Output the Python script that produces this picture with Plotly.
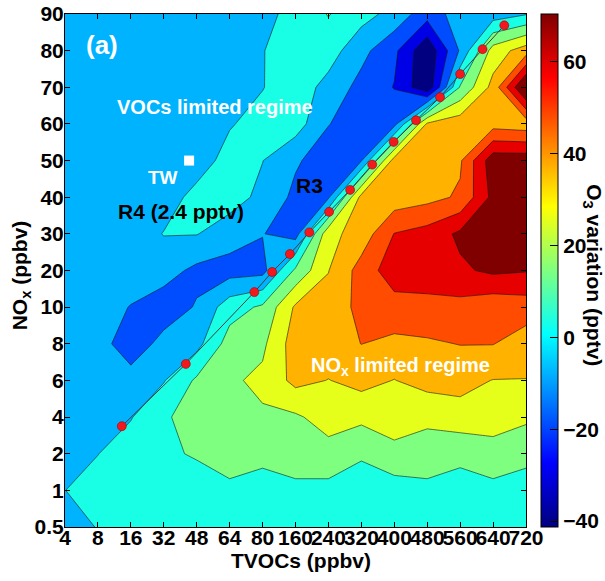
import numpy as np
import plotly.graph_objects as go

# ---------------- data ----------------
tvoc_ticks = [4, 8, 16, 32, 48, 64, 80, 160, 240, 320, 400, 480, 560, 640, 720]   # ppbv
nox_ticks = [0.5, 1, 2, 4, 6, 8, 10, 20, 30, 40, 50, 60, 70, 80, 90]              # ppbv

# O3 variation (pptv); one list per NOx level (bottom -> top), values along TVOC ticks
o3_nox_0p5 = [-6, -1.8, 3, 3, 3, 3, 3, 3, 3, 3, 3, 3, 3, 3, 3]
o3_nox_1 = [-2.3, 2, 4, 4, 4, 5.5, 6, 5.5, 5.7, 6, 5.5, 5.5, 6, 5.5, 6]
o3_nox_2 = [-7, -2.4, 3, 7.2, 10, 16.4, 10.9, 16.4, 16, 9.7, 14, 16.4, 10.8, 16.4, 10.9]
o3_nox_4 = [-8, -7, -2.8, 6.6, 16.6, 17.5, 18.6, 18.5, 24.9, 23, 30.5, 21.9, 27.1, 24.4, 22.5]
o3_nox_6 = [-8, -8, -9, -2.86, 10.8, 18.3, 22.7, 34.5, 31, 34.9, 31, 35.7, 34.7, 31, 31]
o3_nox_8 = [-8.5, -9, -19.5, -10, -5.9, 14, 17.8, 37.1, 38, 42.6, 40, 41, 42.8, 42.8, 37]
o3_nox_10 = [-8.5, -9, -13.8, -19, -12.5, 4, 10.8, 33, 35, 46, 49, 50, 50, 46, 48]
o3_nox_20 = [-8.5, -8.5, -8, -9, -16, -18, -17, 11, 31, 47, 60, 60, 63, 67, 65.5]
o3_nox_30 = [-8.5, -8, -8, -1.8, -1.8, -8, -13, -18, 28, 36, 54, 58, 67, 70, 69]
o3_nox_40 = [-8, -8, -8, -7, 1, 2.5, -5, -16, -15, 35, 36, 39, 44, 68, 70]
o3_nox_50 = [-8, -8, -8, -8, -7, 1.5, -2, -12, -19, -14, 36, 38, 41, 72, 72]
o3_nox_60 = [-8, -8, -8, -8, -8, -3, 1.5, 3, -13, -19, -17, 33, 38, 38, 36]
o3_nox_70 = [-8, -8, -8, -8, -8, -8, -2.6, 4, -6, -17, -25, -45, 10, 35, 80]
o3_nox_80 = [-8, -8, -8, -8, -8, -8, -2.6, 3, 3, -10, -22, -45, -12, 25, 37]
o3_nox_90 = [-8, -8, -8, -8, -8, -8, -6, 2, 9.5, 2, -6, -20, -8, -8, -3]

# ridge line (red dots)
ridge_tvoc = [13.8, 42.7, 76, 103.2, 146.4, 193.6, 241.6, 292.8, 346.4, 398.4, 452.8, 511.2, 560, 614.4, 667.2]
ridge_nox = [3.5, 6.9, 14.1, 19.6, 24.5, 30.4, 36.0, 42.0, 48.9, 55.1, 61.0, 67.3, 73.6, 80.4, 86.9]

# TW site
tw_tvoc = [44.3]
tw_nox = [50]

cbar_min, cbar_max = -41.3, 70.4
cbar_ticks = [-40, -20, 0, 20, 40, 60]

# ---------------- figure ----------------
z = [o3_nox_0p5, o3_nox_1, o3_nox_2, o3_nox_4, o3_nox_6, o3_nox_8, o3_nox_10, o3_nox_20,
     o3_nox_30, o3_nox_40, o3_nox_50, o3_nox_60, o3_nox_70, o3_nox_80, o3_nox_90]
idx = list(range(len(tvoc_ticks)))

def xpos(v):
    return np.interp(v, tvoc_ticks, idx)

def ypos(v):
    return np.interp(v, nox_ticks, idx)

jet = [[0.0, 'rgb(0,0,128)'], [0.125, 'rgb(0,0,255)'], [0.375, 'rgb(0,255,255)'],
       [0.625, 'rgb(255,255,0)'], [0.875, 'rgb(255,0,0)'], [1.0, 'rgb(128,0,0)']]

n_bands = 10
lev_size = (cbar_max - cbar_min) / n_bands
lev_start = cbar_min + lev_size / 2
lev_end = lev_start + (n_bands - 1) * lev_size

FONT = "Arial, 'Liberation Sans', sans-serif"

fig = go.Figure()
fig.add_trace(go.Contour(
    x=idx, y=idx, z=z, colorscale=jet, autocontour=False,
    contours=dict(start=lev_start, end=lev_end, size=lev_size, coloring='fill', showlines=True),
    line=dict(color='rgba(20,20,20,0.85)', width=0.7, smoothing=0),
    showscale=False, hoverinfo='skip'))

fig.add_trace(go.Scatter(
    x=xpos(ridge_tvoc), y=ypos(ridge_nox), mode='lines+markers',
    line=dict(color='rgb(60,60,60)', width=1),
    marker=dict(size=9, color='rgb(240,25,30)', line=dict(color='rgb(170,0,0)', width=0.6)),
    hoverinfo='skip', showlegend=False))

fig.add_trace(go.Scatter(
    x=xpos(tw_tvoc), y=ypos(tw_nox), mode='markers',
    marker=dict(symbol='square', size=10, color='white'),
    hoverinfo='skip', showlegend=False))

# continuous colourbar
fig.add_trace(go.Scatter(
    x=[0], y=[0], mode='markers', hoverinfo='skip', showlegend=False,
    marker=dict(size=1, opacity=0, color=[0], colorscale=jet, cmin=cbar_min, cmax=cbar_max,
                showscale=True,
                colorbar=dict(x=1.0325, xanchor='left', y=0.5, yanchor='middle', len=1,
                              lenmode='fraction', thickness=17, xpad=0, ypad=0,
                              outlinewidth=1, outlinecolor='black',
                              ticks='inside', ticklen=8, tickcolor='black',
                              tickvals=cbar_ticks,
                              tickfont=dict(family=FONT, size=21, color='black', weight='bold')))))

axis_common = dict(range=[0, 14], tickvals=idx, ticks='inside', ticklen=5, tickcolor='black',
                   mirror='ticks', showline=True, linecolor='black', linewidth=1,
                   showgrid=False, zeroline=False, tickangle=0, automargin=False,
                   tickfont=dict(family=FONT, size=21, color='black', weight='bold'))

fig.update_layout(
    width=605, height=581, margin=dict(l=65, r=79, t=14, b=54, autoexpand=False),
    paper_bgcolor='white', plot_bgcolor='white', showlegend=False,
    font=dict(family=FONT, size=21, color='black'),
    xaxis=dict(axis_common, ticktext=[str(t) for t in tvoc_ticks], ticklabelstandoff=-8),
    yaxis=dict(axis_common, ticktext=[str(t) for t in nox_ticks], ticklabelstandoff=-4),
)

def ann(text, x, y, size, color, xref='x', yref='y', angle=0):
    fig.add_annotation(text='<b>' + text + '</b>', x=x, y=y, xref=xref, yref=yref,
                       showarrow=False, xanchor='center', yanchor='middle', textangle=angle,
                       font=dict(family=FONT, size=size, color=color))

ann('(a)', 1.12, 13.15, 26, 'white')
ann('VOCs limited regime', 4.56, 11.46, 20, 'white')
ann('TW', 2.98, 9.55, 19, 'white')
ann('R3', 7.44, 9.33, 21, 'black')
ann('R4 (2.4 pptv)', 3.52, 8.62, 21, 'black')
ann('NO<sub>x</sub> limited regime', 10.2, 4.37, 20, 'white')

ann('TVOCs (ppbv)', 0.512, -0.065, 21, 'black', xref='paper', yref='paper')
ann('NO<sub>x</sub> (ppbv)', -0.095, 0.491, 21, 'black', xref='paper', yref='paper', angle=-90)
ann('O<sub>3</sub> variation (pptv)', 1.145, 0.491, 21, 'black', xref='paper', yref='paper', angle=90)

# remove the browser's default 8 px page margin so the figure sits at the window's corner
fig.write_html("out.html", config={'displayModeBar': False},
               post_script="document.body.style.margin='0px';")
